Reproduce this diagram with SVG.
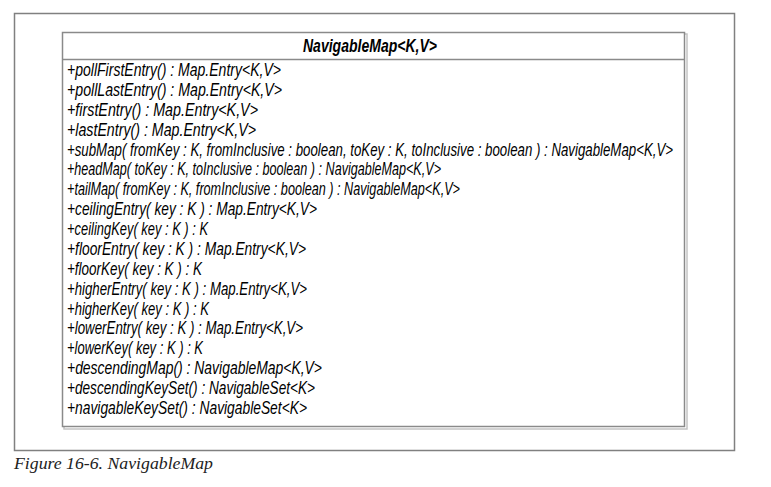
<svg xmlns="http://www.w3.org/2000/svg" width="771" height="487" viewBox="0 0 771 487">
<style>
.m{font-family:"Liberation Sans",Arial,sans-serif;font-style:italic;font-size:18px;fill:#000}
.h{font-family:"Liberation Sans",Arial,sans-serif;font-style:italic;font-weight:bold;font-size:19px;fill:#000}
.cap{font-family:"Liberation Serif","Times New Roman",serif;font-style:italic;font-size:17px;fill:#222}
</style>
<rect x="0" y="0" width="771" height="487" fill="#fff"/>
<rect x="14.5" y="13.5" width="720" height="437" fill="none" stroke="#808080" stroke-width="1.5"/>
<g id="NavigableMap">
<rect x="64" y="34" width="623" height="395" fill="none" stroke="#c4c4c4" stroke-width="1.5"/>
<rect x="62.5" y="32.5" width="622" height="394" fill="#fff" stroke="#8a8a8a" stroke-width="1.5"/>
<line x1="62.5" y1="59.5" x2="684.5" y2="59.5" stroke="#8a8a8a" stroke-width="1.5"/>
<text class="h" x="370" y="52" text-anchor="middle" textLength="134" lengthAdjust="spacingAndGlyphs">NavigableMap&lt;K,V&gt;</text>
<text class="m" x="67" y="76" textLength="214" lengthAdjust="spacingAndGlyphs">+pollFirstEntry() : Map.Entry&lt;K,V&gt;</text>
<text class="m" x="67" y="95.9" textLength="215" lengthAdjust="spacingAndGlyphs">+pollLastEntry() : Map.Entry&lt;K,V&gt;</text>
<text class="m" x="67" y="115.8" textLength="191" lengthAdjust="spacingAndGlyphs">+firstEntry() : Map.Entry&lt;K,V&gt;</text>
<text class="m" x="67" y="135.6" textLength="189" lengthAdjust="spacingAndGlyphs">+lastEntry() : Map.Entry&lt;K,V&gt;</text>
<text class="m" x="67" y="155.5" textLength="606" lengthAdjust="spacingAndGlyphs">+subMap( fromKey : K, fromInclusive : boolean, toKey : K, toInclusive : boolean ) : NavigableMap&lt;K,V&gt;</text>
<text class="m" x="67" y="175.4" textLength="374" lengthAdjust="spacingAndGlyphs">+headMap( toKey : K, toInclusive : boolean ) : NavigableMap&lt;K,V&gt;</text>
<text class="m" x="67" y="195.3" textLength="393" lengthAdjust="spacingAndGlyphs">+tailMap( fromKey : K, fromInclusive : boolean ) : NavigableMap&lt;K,V&gt;</text>
<text class="m" x="67" y="215.2" textLength="250" lengthAdjust="spacingAndGlyphs">+ceilingEntry( key : K ) : Map.Entry&lt;K,V&gt;</text>
<text class="m" x="67" y="235" textLength="141" lengthAdjust="spacingAndGlyphs">+ceilingKey( key : K ) : K</text>
<text class="m" x="67" y="254.9" textLength="239" lengthAdjust="spacingAndGlyphs">+floorEntry( key : K ) : Map.Entry&lt;K,V&gt;</text>
<text class="m" x="67" y="274.8" textLength="135" lengthAdjust="spacingAndGlyphs">+floorKey( key : K ) : K</text>
<text class="m" x="67" y="294.7" textLength="240" lengthAdjust="spacingAndGlyphs">+higherEntry( key : K ) : Map.Entry&lt;K,V&gt;</text>
<text class="m" x="67" y="314.6" textLength="142" lengthAdjust="spacingAndGlyphs">+higherKey( key : K ) : K</text>
<text class="m" x="67" y="334.4" textLength="236" lengthAdjust="spacingAndGlyphs">+lowerEntry( key : K ) : Map.Entry&lt;K,V&gt;</text>
<text class="m" x="67" y="354.3" textLength="136" lengthAdjust="spacingAndGlyphs">+lowerKey( key : K ) : K</text>
<text class="m" x="67" y="374.2" textLength="255" lengthAdjust="spacingAndGlyphs">+descendingMap() : NavigableMap&lt;K,V&gt;</text>
<text class="m" x="67" y="394.1" textLength="248" lengthAdjust="spacingAndGlyphs">+descendingKeySet() : NavigableSet&lt;K&gt;</text>
<text class="m" x="67" y="414" textLength="240" lengthAdjust="spacingAndGlyphs">+navigableKeySet() : NavigableSet&lt;K&gt;</text>
</g>
<text class="cap" x="14" y="469" textLength="199" lengthAdjust="spacingAndGlyphs">Figure 16-6. NavigableMap</text>
</svg>
